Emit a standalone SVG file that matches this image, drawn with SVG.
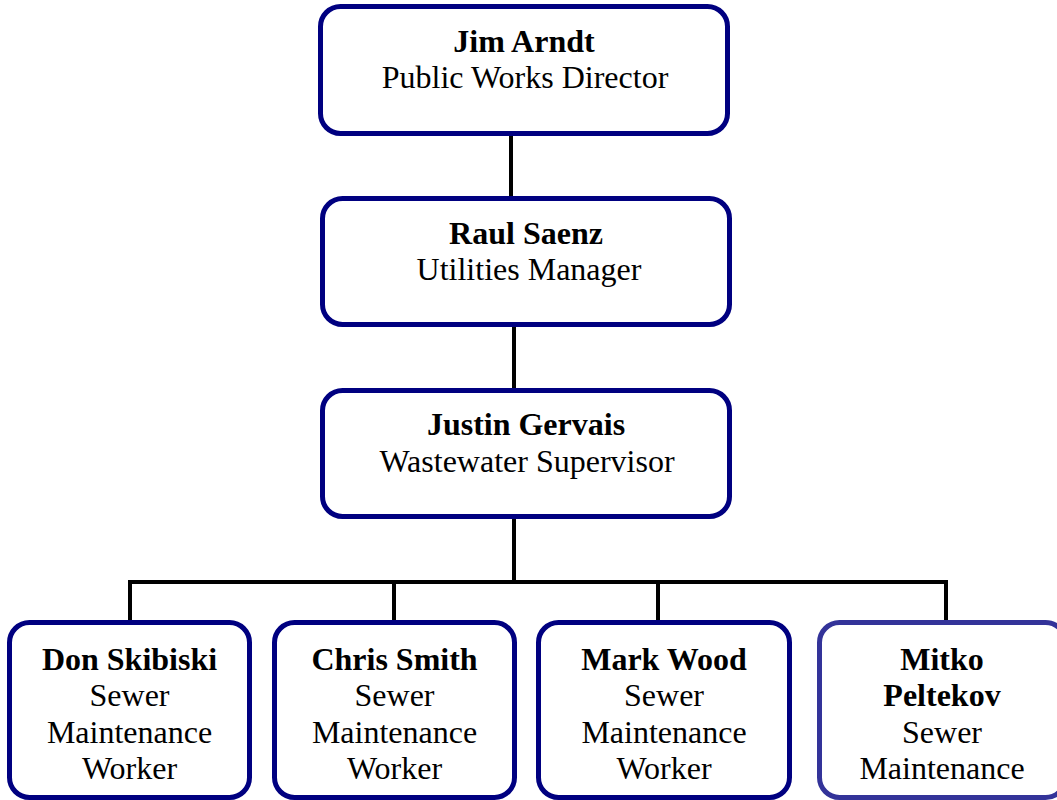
<svg xmlns="http://www.w3.org/2000/svg" width="1057" height="800" viewBox="0 0 1057 800">
<style>
.box{fill:#fff;stroke:#000080;stroke-width:5}
.box2{fill:#fff;stroke:#333399;stroke-width:5}
.con{fill:none;stroke:#000;stroke-width:4}
text{font-family:"Liberation Serif","Times New Roman",serif;font-size:32px;fill:#000;text-anchor:middle}
.b{font-weight:bold}
</style>
<rect width="1057" height="800" fill="#fff"/>
<g id="connectors">
<line class="con" x1="511" y1="134" x2="511" y2="199"/>
<line class="con" x1="514" y1="325" x2="514" y2="391"/>
<line class="con" x1="514" y1="517" x2="514" y2="582"/>
<polyline class="con" points="130,622 130,582 946,582 946,622"/>
<line class="con" x1="394" y1="582" x2="394" y2="622"/>
<line class="con" x1="658" y1="582" x2="658" y2="622"/>
</g>
<g id="jim">
<rect class="box" x="320.5" y="6.5" width="407" height="127" rx="20"/>
<text x="524" y="52" class="b">Jim Arndt</text>
<text x="525" y="88">Public Works Director</text>
</g>
<g id="raul">
<rect class="box" x="322.5" y="198.5" width="407" height="126" rx="20"/>
<text x="526" y="244" class="b">Raul Saenz</text>
<text x="529" y="280">Utilities Manager</text>
</g>
<g id="justin">
<rect class="box" x="322.5" y="390.5" width="407" height="126" rx="20"/>
<text x="526" y="435" class="b">Justin Gervais</text>
<text x="527" y="472">Wastewater Supervisor</text>
</g>
<g id="don">
<rect class="box" x="9.5" y="622.5" width="240" height="175" rx="20"/>
<text x="129.5" y="670" class="b">Don Skibiski</text>
<text x="129.5" y="706">Sewer</text>
<text x="129.5" y="743">Maintenance</text>
<text x="129.5" y="779">Worker</text>
</g>
<g id="chris">
<rect class="box" x="274.5" y="622.5" width="240" height="175" rx="20"/>
<text x="394.5" y="670" class="b">Chris Smith</text>
<text x="394.5" y="706">Sewer</text>
<text x="394.5" y="743">Maintenance</text>
<text x="394.5" y="779">Worker</text>
</g>
<g id="mark">
<rect class="box" x="538.5" y="622.5" width="251" height="175" rx="20"/>
<text x="664" y="670" class="b">Mark Wood</text>
<text x="664" y="706">Sewer</text>
<text x="664" y="743">Maintenance</text>
<text x="664" y="779">Worker</text>
</g>
<g id="mitko">
<rect class="box2" x="819.5" y="622.5" width="246" height="175" rx="20"/>
<text x="942" y="670" class="b">Mitko</text>
<text x="942" y="706" class="b">Peltekov</text>
<text x="942" y="743">Sewer</text>
<text x="942" y="779">Maintenance</text>
</g>
</svg>
